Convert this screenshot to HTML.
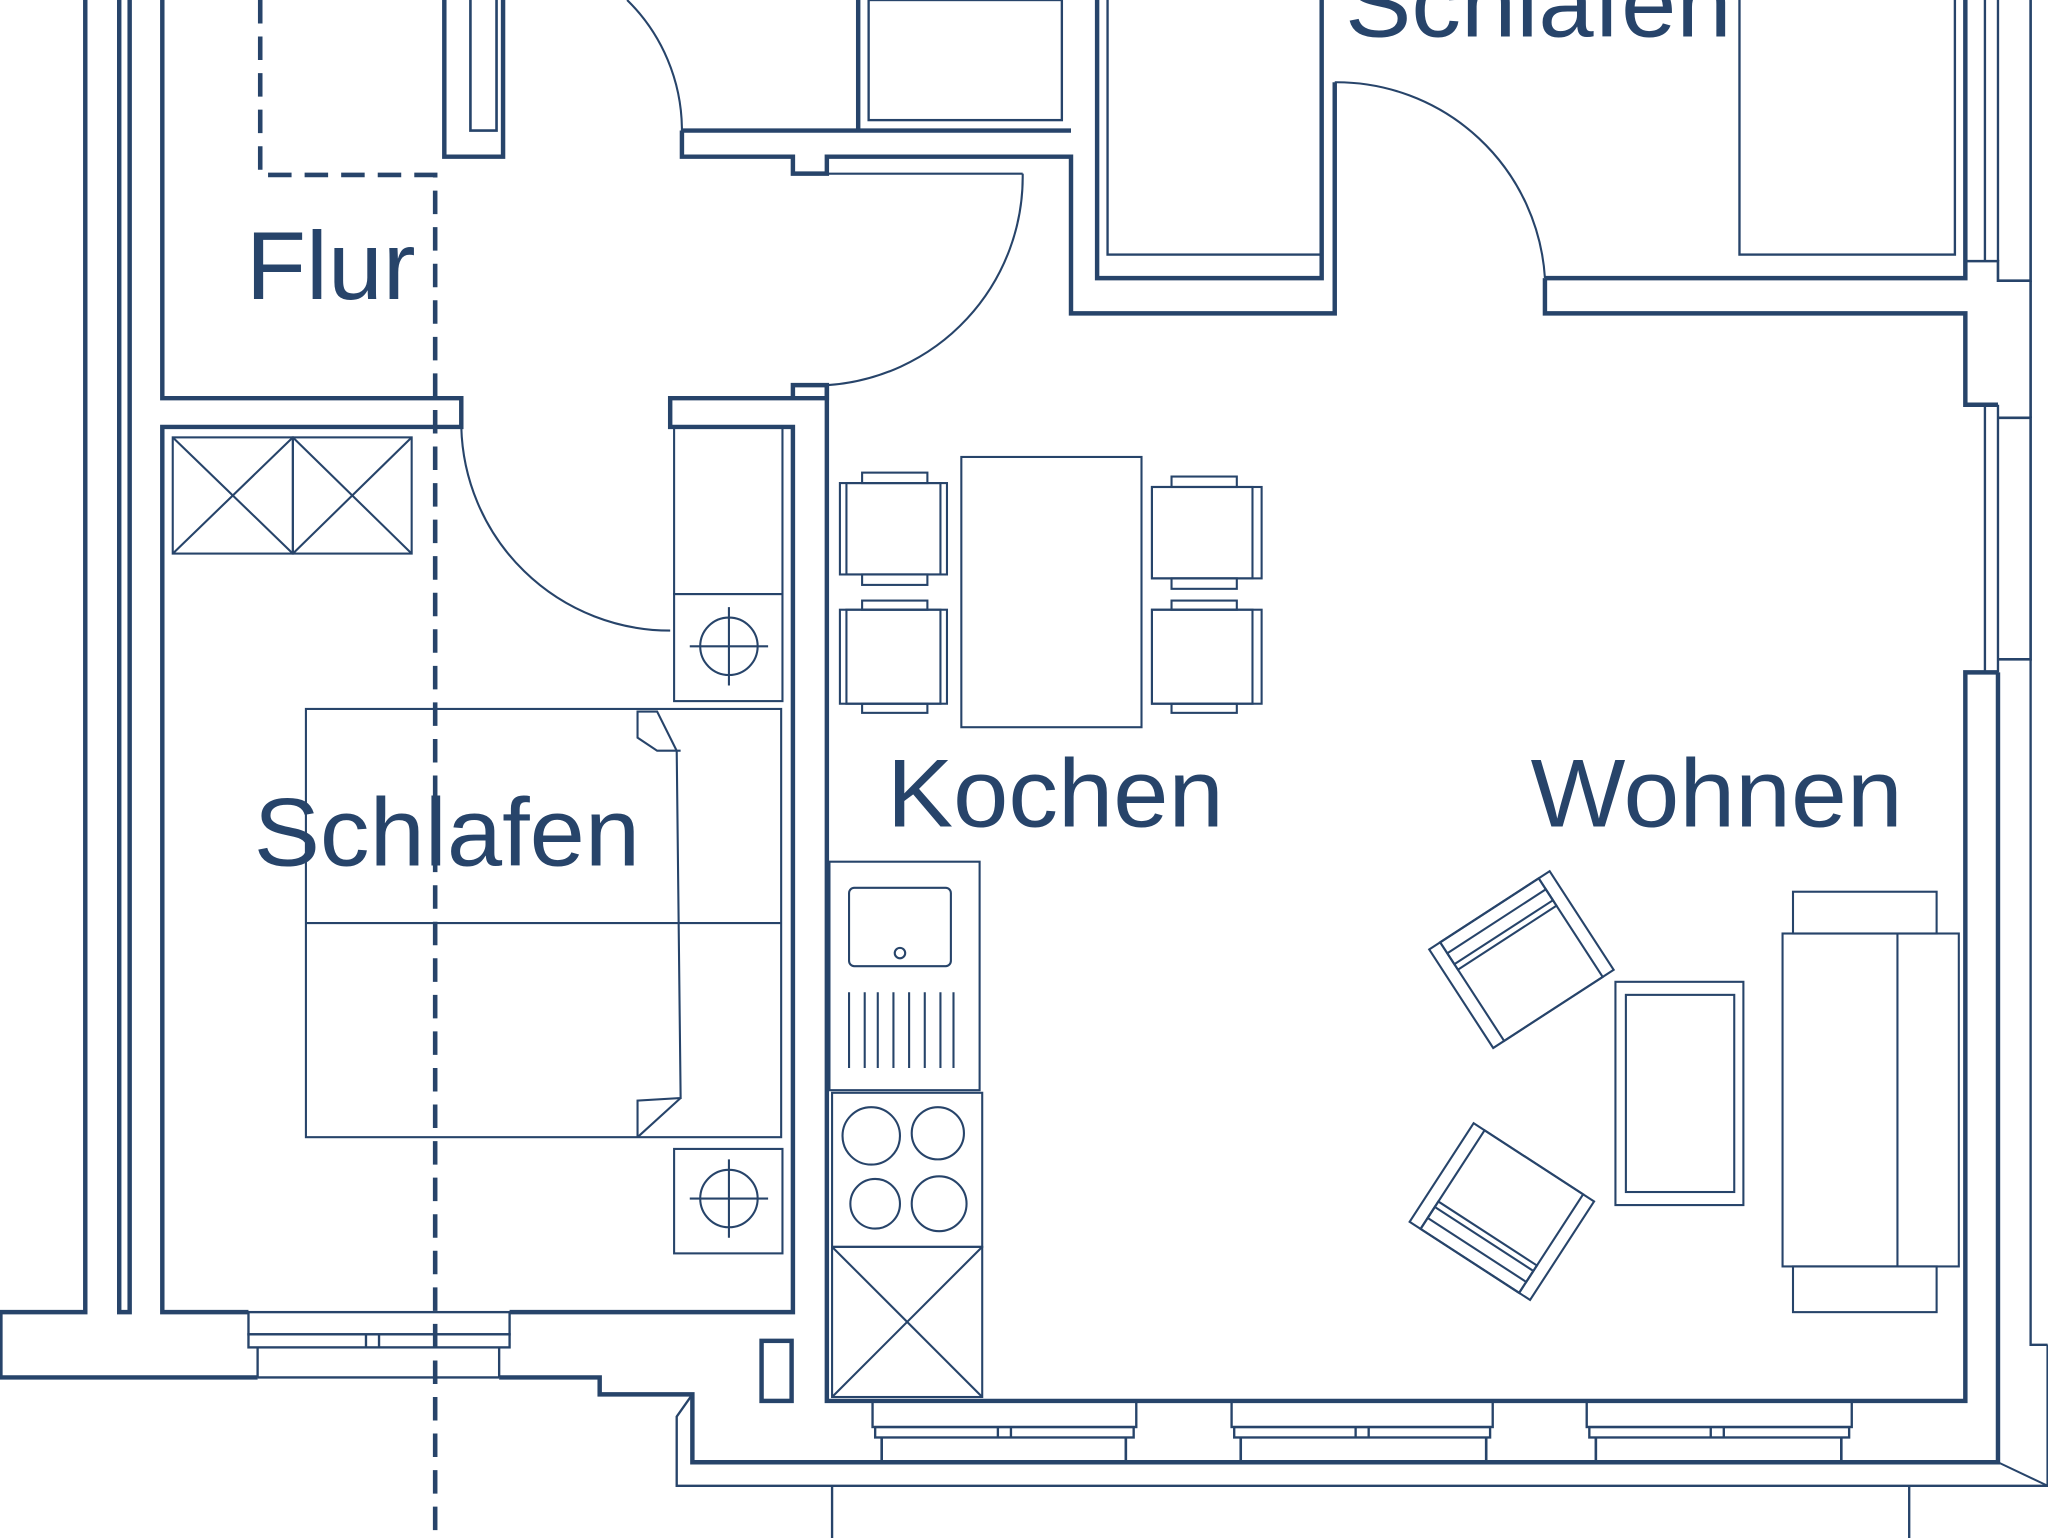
<!DOCTYPE html>
<html><head><meta charset="utf-8"><style>
html,body{margin:0;padding:0;background:#fff;}
svg{display:block;}
text{font-family:"Liberation Sans",sans-serif;fill:#27446a;}
</style></head><body>
<svg width="2048" height="1538" viewBox="0 0 1568 1178" xmlns="http://www.w3.org/2000/svg">
<g fill="none" stroke="#27446a" stroke-width="3.4" stroke-linejoin="miter">
<polyline points="65,0 65,1005 0,1005 0,1055 197,1055"/>
<polyline points="91,0 91,1005 99,1005 99,0"/>
<polyline points="124,0 124,305 353,305 353,327 124,327 124,1005 190,1005"/>
<polyline points="390,1005 607,1005 607,327 513,327 513,305 633,305 633,295 607,295 607,305"/>
<polyline points="633,295 633,1073 1505,1073 1505,515 1530,515"/>
<polyline points="340,0 340,120 385,120 385,0"/>
<polyline points="360,0 360,100 380,100 380,0" stroke-width="2"/>
<polyline points="522,100 820,100"/>
<polyline points="522,100 522,120 607,120 607,133 633,133 633,120 820,120 820,240 1022,240 1022,63"/>
<polyline points="657,0 657,100"/>
<rect x="665" y="0" width="148" height="92" stroke-width="1.8"/>
<polyline points="840,0 840,213 1012,213 1012,0"/>
<rect x="848" y="-2" width="164" height="197" stroke-width="1.8"/>
<polyline points="1183,213 1183,240 1505,240 1505,310 1530,310"/>
<polyline points="1183,213 1505,213 1505,0"/>
<rect x="1332" y="-2" width="165" height="197" stroke-width="1.8"/>
<polyline points="1505,200 1530,200 1530,215 1555,215 1555,0" stroke-width="2"/>
<polyline points="1530,0 1530,200" stroke-width="1.8"/>
<polyline points="1520,0 1520,200" stroke-width="1.8"/>
<polyline points="1520,310 1520,515" stroke-width="1.8"/>
<polyline points="1530,310 1530,515" stroke-width="1.8"/>
<polyline points="1530,320 1555,320 1555,505 1530,505" stroke-width="2"/>
<polyline points="1555,215 1555,320" stroke-width="2"/>
<polyline points="1555,505 1555,1030 1568,1030" stroke-width="1.8"/>
<polyline points="1530,515 1530,1120 530,1120 530,1068 459,1068 459,1055 382,1055" />
<polyline points="1568,1030 1568,1138 518,1138 518,1085 530,1068" stroke-width="1.8"/>
<polyline points="1530,1120 1568,1138" stroke-width="1.5"/>
<line x1="637" y1="1138" x2="637" y2="1178" stroke-width="1.8"/>
<line x1="1462" y1="1138" x2="1462" y2="1178" stroke-width="1.8"/>
<g stroke-width="1.8">
<rect x="190" y="1005" width="200" height="17"/>
<rect x="190" y="1022" width="200" height="10"/>
<line x1="197" y1="1032" x2="197" y2="1055"/><line x1="382" y1="1032" x2="382" y2="1055"/>
<line x1="197" y1="1055" x2="382" y2="1055"/>
<line x1="280" y1="1022" x2="280" y2="1032"/><line x1="290" y1="1022" x2="290" y2="1032"/>
</g>
<g stroke-width="1.8">
<rect x="668" y="1073" width="202" height="20"/><rect x="670" y="1093" width="198" height="8"/>
<rect x="943" y="1073" width="200" height="20"/><rect x="945" y="1093" width="196" height="8"/>
<rect x="1215" y="1073" width="203" height="20"/><rect x="1217" y="1093" width="199" height="8"/>
<line x1="764" y1="1093" x2="764" y2="1101"/><line x1="774" y1="1093" x2="774" y2="1101"/>
<line x1="1038" y1="1093" x2="1038" y2="1101"/><line x1="1048" y1="1093" x2="1048" y2="1101"/>
<line x1="1310" y1="1093" x2="1310" y2="1101"/><line x1="1320" y1="1093" x2="1320" y2="1101"/>
</g>
<polyline points="675,1101 675,1120" stroke-width="2"/><polyline points="862,1101 862,1120" stroke-width="2"/>
<polyline points="950,1101 950,1120" stroke-width="2"/><polyline points="1138,1101 1138,1120" stroke-width="2"/>
<polyline points="1222,1101 1222,1120" stroke-width="2"/><polyline points="1410,1101 1410,1120" stroke-width="2"/>
<rect x="583" y="1027" width="23" height="46"/>
</g>
<g fill="none" stroke="#27446a" stroke-width="1.6">
<polyline points="199,0 199,134 333,134 333,1178" stroke-width="3.5" stroke-dasharray="18,10"/>
<path d="M480,0 A140,140 0 0 1 522,100"/>
<line x1="633" y1="133" x2="783" y2="133"/>
<path d="M783,133 A160,160 0 0 1 633,295"/>
<path d="M353,327 A160,160 0 0 0 513,483"/>
<path d="M1022,63 A160,160 0 0 1 1183,213"/>
<rect x="516" y="327" width="83" height="128"/>
<rect x="516" y="455" width="83" height="82"/>
<circle cx="558" cy="495" r="22"/><line x1="528" y1="495" x2="588" y2="495"/><line x1="558" y1="465" x2="558" y2="525"/>
<rect x="516" y="880" width="83" height="80"/>
<circle cx="558" cy="918" r="22"/><line x1="528" y1="918" x2="588" y2="918"/><line x1="558" y1="888" x2="558" y2="948"/>
<rect x="132" y="335" width="92" height="89"/><rect x="224" y="335" width="91" height="89"/>
<line x1="132" y1="335" x2="224" y2="424"/><line x1="224" y1="335" x2="132" y2="424"/>
<line x1="224" y1="335" x2="315" y2="424"/><line x1="315" y1="335" x2="224" y2="424"/>
<rect x="234" y="543" width="364" height="328"/>
<line x1="234" y1="707" x2="598" y2="707"/>
<path d="M488,871 L488,843 L521,841 L518,575 L503,545 L488,545 L488,565 L503,575 L521,575"/>
<line x1="488" y1="871" x2="521" y2="841"/>
<rect x="736" y="350" width="138" height="207"/>
<rect x="643" y="370" width="82" height="70"/><rect x="648" y="370" width="72" height="70"/><rect x="660" y="362" width="50" height="8"/><rect x="660" y="440" width="50" height="8"/>
<rect x="643" y="467" width="82" height="72"/><rect x="648" y="467" width="72" height="72"/><rect x="660" y="460" width="50" height="7"/><rect x="660" y="539" width="50" height="7"/>
<rect x="882" y="373" width="84" height="70"/><rect x="882" y="373" width="77" height="70"/><rect x="897" y="365" width="50" height="8"/><rect x="897" y="443" width="50" height="8"/>
<rect x="882" y="467" width="84" height="72"/><rect x="882" y="467" width="77" height="72"/><rect x="897" y="460" width="50" height="7"/><rect x="897" y="539" width="50" height="7"/>
<rect x="635" y="660" width="115" height="175"/>
<rect x="650" y="680" width="78" height="60" rx="4"/>
<circle cx="689" cy="730" r="4"/>
<g><line x1="650" y1="760" x2="650" y2="818"/><line x1="662" y1="760" x2="662" y2="818"/><line x1="672" y1="760" x2="672" y2="818"/><line x1="684" y1="760" x2="684" y2="818"/><line x1="696" y1="760" x2="696" y2="818"/><line x1="708" y1="760" x2="708" y2="818"/><line x1="720" y1="760" x2="720" y2="818"/><line x1="730" y1="760" x2="730" y2="818"/></g>
<rect x="637" y="837" width="115" height="118"/>
<circle cx="667" cy="870" r="22"/><circle cx="718" cy="868" r="20"/><circle cx="670" cy="922" r="19"/><circle cx="719" cy="922" r="21"/>
<rect x="637" y="955" width="115" height="115"/>
<line x1="637" y1="955" x2="752" y2="1070"/><line x1="752" y1="955" x2="637" y2="1070"/>
<rect x="1365" y="715" width="135" height="255"/>
<line x1="1453" y1="715" x2="1453" y2="970"/>
<rect x="1373" y="683" width="110" height="32"/>
<rect x="1373" y="970" width="110" height="35"/>
<rect x="1237" y="752" width="98" height="171"/>
<rect x="1245" y="762" width="83" height="151"/>
<g transform="translate(1165,735) rotate(-33)">
<rect x="-55" y="-45" width="110" height="90"/>
<rect x="-45" y="-45" width="90" height="90"/>
<rect x="-45" y="-45" width="90" height="25"/>
<rect x="-45" y="-35" width="90" height="10"/>
</g>
<g transform="translate(1150,928) rotate(33)">
<rect x="-55" y="-45" width="110" height="90"/>
<rect x="-45" y="-45" width="90" height="90"/>
<rect x="-45" y="20" width="90" height="25"/>
<rect x="-45" y="25" width="90" height="10"/>
</g>
</g>
<text x="188" y="229" font-size="74" textLength="130" lengthAdjust="spacingAndGlyphs">Flur</text>
<text x="194" y="663" font-size="74" textLength="296" lengthAdjust="spacingAndGlyphs">Schlafen</text>
<text x="679" y="633" font-size="74" textLength="258" lengthAdjust="spacingAndGlyphs">Kochen</text>
<text x="1172" y="633" font-size="74" textLength="285" lengthAdjust="spacingAndGlyphs">Wohnen</text>
<text x="1030" y="28" font-size="74" textLength="296" lengthAdjust="spacingAndGlyphs">Schlafen</text>
</svg>
</body></html>
